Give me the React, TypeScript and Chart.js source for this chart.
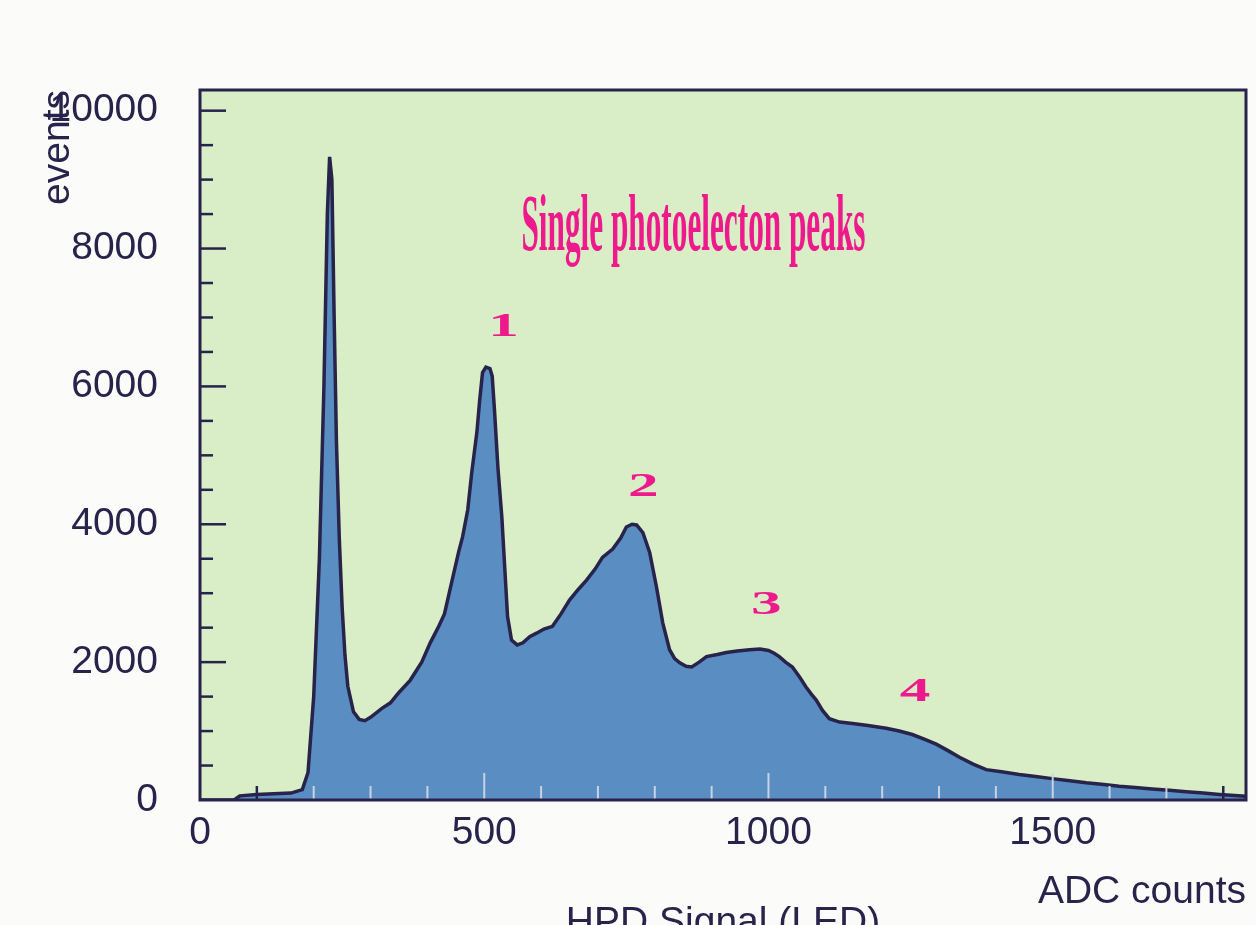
import React, { useEffect, useRef } from 'react';
import { Chart, registerables } from 'chart.js';

Chart.register(...registerables);

// ADC counts (x) and number of events (y)
const adcCounts = [
  0, 60, 70, 100, 130, 160, 180, 190, 200, 210, 218, 224, 228, 232, 236, 240, 245, 250, 255, 260,
  270, 280, 290, 300, 320, 335, 350, 370, 390, 405, 420, 430, 445, 455, 462, 471, 478, 487, 492, 497,
  503, 510, 514, 518, 524, 531, 536, 541, 548, 558, 568, 580, 592, 605, 620, 635, 650, 665, 680, 695,
  708, 726, 740, 750, 760, 768, 779, 791, 803, 814, 826, 835, 844, 855, 865, 878, 891, 910, 926, 945,
  967, 985, 1000, 1010, 1019, 1030, 1042, 1055, 1066, 1075, 1084, 1095, 1107, 1125, 1148, 1175, 1207, 1230, 1253, 1275,
  1295, 1315, 1336, 1360, 1383, 1410, 1441, 1470, 1499, 1530, 1559, 1590, 1617, 1645, 1675, 1705, 1735, 1765, 1793, 1820,
  1840,
];
const events = [
  0, 0, 60, 80, 90, 100, 150, 400, 1500, 3500, 6000, 8500, 9330, 9000, 7000, 5200, 3800, 2800, 2100, 1650,
  1280, 1170, 1150, 1200, 1330, 1410, 1560, 1740, 2000, 2280, 2520, 2700, 3240, 3600, 3820, 4210, 4750, 5330, 5800, 6200,
  6280, 6260, 6150, 5660, 4830, 4100, 3380, 2660, 2320, 2250, 2280, 2370, 2420, 2480, 2520, 2700, 2900, 3050, 3190, 3350,
  3520, 3640, 3800, 3960, 4000, 3990, 3880, 3590, 3090, 2570, 2180, 2050, 1990, 1940, 1930, 2000, 2080, 2110, 2140, 2160,
  2180, 2190, 2170, 2130, 2080, 2000, 1930, 1780, 1640, 1540, 1450, 1300, 1180, 1130, 1110, 1080, 1040, 1000, 950, 880,
  810, 720, 620, 520, 440, 410, 370, 340, 310, 280, 250, 225, 200, 180, 160, 140, 120, 100, 80, 65,
  55,
];

const xTickLabels = [0, 500, 1000, 1500];
const yTickLabels = [0, 2000, 4000, 6000, 8000, 10000];
const X_MINOR_STEP = 100;
const Y_MINOR_STEP = 500;
const X_MAX = 1840;
const Y_MAX = 10300;

const peakLabels = ['1', '2', '3', '4'];
const peakLabelX = [534, 780, 996, 1258];
const peakLabelY = [6865, 4543, 2830, 1567];

const titleText = 'Single photoelecton peaks';
const titleX = 868;
const titleY = 7980;

const NAVY = '#27234a';
const MAGENTA = '#ee1a8c';
const FILL_BLUE = '#5a8ec3';
const PLOT_GREEN = '#d9edc6';

const stepTicks = (max: number, step: number) => {
  const out: { value: number }[] = [];
  for (let v = 0; v <= max; v += step) out.push({ value: v });
  return out;
};

const decorPlugin = {
  id: 'decor',
  beforeDraw(chart: any) {
    const { ctx, chartArea: a, width, height } = chart;
    ctx.save();
    ctx.fillStyle = '#fbfbfa';
    ctx.fillRect(0, 0, width, height);
    ctx.fillStyle = PLOT_GREEN;
    ctx.fillRect(a.left, a.top, a.right - a.left, a.bottom - a.top);
    ctx.restore();
  },
  afterDatasetsDraw(chart: any) {
    const { ctx, chartArea: a, scales } = chart;
    const xs = scales.x;
    const ys = scales.y;
    ctx.save();
    ys.ticks.forEach((t: any) => {
      if (t.value === 0) return;
      const py = ys.getPixelForValue(t.value);
      const len = yTickLabels.includes(t.value) ? 26 : 13;
      ctx.strokeStyle = NAVY;
      ctx.lineWidth = 2.5;
      ctx.beginPath();
      ctx.moveTo(a.left, py);
      ctx.lineTo(a.left + len, py);
      ctx.stroke();
    });
    xs.ticks.forEach((t: any) => {
      if (t.value === 0) return;
      const px = xs.getPixelForValue(t.value);
      const len = t.value % 500 === 0 ? 27 : 14;
      const d = ctx.getImageData(Math.round(px) + 4, Math.round(a.bottom - 6), 1, 1).data;
      const isBlue = d[2] > d[0] + 40;
      ctx.strokeStyle = isBlue ? 'rgba(205,214,228,0.95)' : NAVY;
      ctx.lineWidth = isBlue ? 2 : 2.5;
      ctx.beginPath();
      ctx.moveTo(px, a.bottom);
      ctx.lineTo(px, a.bottom - len);
      ctx.stroke();
    });
    ctx.restore();
  },
  afterDraw(chart: any) {
    const { ctx, chartArea: a, scales } = chart;
    const xs = scales.x;
    const ys = scales.y;
    ctx.save();
    // frame
    ctx.strokeStyle = NAVY;
    ctx.lineWidth = 3;
    ctx.strokeRect(a.left, a.top, a.right - a.left, a.bottom - a.top);

    // title annotation (condensed serif)
    ctx.fillStyle = MAGENTA;
    ctx.font = 'bold 80px "Liberation Serif", "DejaVu Serif", serif';
    const w = ctx.measureText(titleText).width;
    const sx = 344 / w;
    ctx.save();
    ctx.translate(xs.getPixelForValue(titleX), ys.getPixelForValue(titleY));
    ctx.scale(sx, 1);
    ctx.textAlign = 'center';
    ctx.textBaseline = 'alphabetic';
    ctx.fillText(titleText, 0, 0);
    ctx.restore();

    // peak numbers
    ctx.font = 'bold 34px "Liberation Serif", "DejaVu Serif", serif';
    peakLabels.forEach((lab, i) => {
      ctx.save();
      ctx.translate(xs.getPixelForValue(peakLabelX[i]), ys.getPixelForValue(peakLabelY[i]));
      ctx.scale(1.8, 1);
      ctx.textAlign = 'center';
      ctx.textBaseline = 'middle';
      ctx.fillText(lab, 0, 0);
      ctx.restore();
    });

    // cut-off caption at the bottom
    ctx.fillStyle = NAVY;
    ctx.font = '39px "Liberation Sans", Arial, sans-serif';
    ctx.textAlign = 'center';
    ctx.textBaseline = 'top';
    ctx.fillText('HPD Signal (LED)', (a.left + a.right) / 2, 904);
    ctx.restore();
  },
};

export default function App() {
  const canvasRef = useRef<HTMLCanvasElement | null>(null);

  useEffect(() => {
    if (!canvasRef.current) return;
    const points = adcCounts.map((x, i) => ({ x, y: events[i] }));
    const font = { family: '"Liberation Sans", Arial, sans-serif', size: 39 };
    const chart = new Chart(canvasRef.current, {
      type: 'line',
      data: {
        datasets: [
          {
            data: points,
            borderColor: NAVY,
            borderWidth: 3.5,
            backgroundColor: FILL_BLUE,
            fill: 'origin',
            pointRadius: 0,
            tension: 0,
          },
        ],
      },
      options: {
        animation: false,
        responsive: true,
        maintainAspectRatio: false,
        layout: { padding: { top: 90, right: 10, left: 0, bottom: 0 } },
        plugins: { legend: { display: false }, tooltip: { enabled: false } },
        scales: {
          x: {
            type: 'linear',
            min: 0,
            max: X_MAX,
            grid: { display: false, drawTicks: false },
            border: { display: false },
            afterBuildTicks: (s: any) => {
              s.ticks = stepTicks(X_MAX, X_MINOR_STEP);
            },
            ticks: {
              autoSkip: false,
              maxRotation: 0,
              padding: 10,
              color: NAVY,
              font,
              callback: (v: any) => (xTickLabels.includes(Number(v)) ? String(v) : ''),
            },
            title: {
              display: true,
              text: 'ADC counts',
              align: 'end',
              color: NAVY,
              font,
              padding: { top: 0, bottom: 9 },
            },
            afterFit: (s: any) => {
              s.height = 125;
            },
          },
          y: {
            type: 'linear',
            min: 0,
            max: Y_MAX,
            grid: { display: false, drawTicks: false },
            border: { display: false },
            afterBuildTicks: (s: any) => {
              s.ticks = stepTicks(Y_MAX, Y_MINOR_STEP);
            },
            ticks: {
              autoSkip: false,
              padding: 42,
              color: NAVY,
              font,
              callback: (v: any) => (yTickLabels.includes(Number(v)) ? String(v) : ''),
            },
            title: {
              display: true,
              text: 'events',
              align: 'end',
              color: NAVY,
              font,
              padding: { top: 35, bottom: 0 },
            },
            afterFit: (s: any) => {
              s.width = 200;
            },
          },
        },
      },
      plugins: [decorPlugin],
    } as any);
    return () => chart.destroy();
  }, []);

  return (
    <div style={{ position: 'fixed', left: 0, top: 0, width: 1256, height: 925 }}>
      <canvas ref={canvasRef} />
    </div>
  );
}
